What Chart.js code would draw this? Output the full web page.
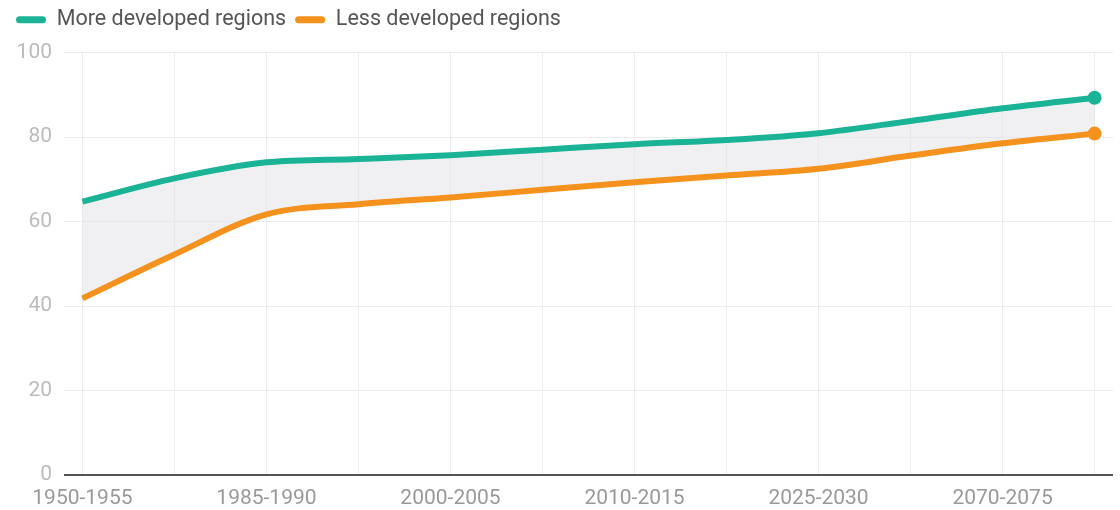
<!DOCTYPE html>
<html>
<head>
<meta charset="utf-8">
<script src="https://cdn.jsdelivr.net/npm/chart.js@4.4.0/dist/chart.umd.min.js"></script>
<style>
  body { margin: 0; background: #fff; }
  #wrap { width: 1120px; height: 510px; }
</style>
</head>
<body>
<div id="wrap"><canvas id="grafico"></canvas></div>
<script>
// Períodos (só os pares aparecem no eixo)
const periodos = ['1950-1955', '1970-1975', '1985-1990', '1995-2000', '2000-2005', '2005-2010',
                  '2010-2015', '2015-2020', '2025-2030', '2045-2050', '2070-2075', '2095-2100'];
const maisDesenvolvidas = [64.7, 70.2, 74.0, 74.8, 75.7, 77.0, 78.3, 79.3, 80.9, 83.8, 86.8, 89.3];
const menosDesenvolvidas = [41.8, 52.2, 61.7, 64.1, 65.7, 67.5, 69.3, 70.9, 72.5, 75.6, 78.5, 80.8];
const ticksY = [0, 20, 40, 60, 80, 100];

const verde = '#1bb396';
const laranja = '#f5911d';

const pontos = (arr) => arr.map((v, i) => ({ x: i, y: v }));
const ultimo = (n) => periodos.map((p, i) => i === periodos.length - 1 ? n : 0);

// Deixa mais espaço embaixo da legenda
const espacoLegenda = {
    id: 'espacoLegenda',
    beforeInit(chart) {
        const fitOriginal = chart.legend.fit;
        chart.legend.fit = function () {
            fitOriginal.bind(chart.legend)();
            this.height += 12;
        };
    }
};

const ctx = document.getElementById('grafico').getContext('2d');
const grafico = new Chart(ctx, {
    type: 'line',
    data: {
        datasets: [{
            label: 'More developed regions',
            data: pontos(maisDesenvolvidas),
            borderColor: verde,
            backgroundColor: 'rgba(228,228,232,0.55)',
            pointBackgroundColor: verde,
            borderWidth: 6,
            pointRadius: ultimo(7),
            pointBorderWidth: 0,
            cubicInterpolationMode: 'monotone',
            fill: '+1'
        }, {
            label: 'Less developed regions',
            data: pontos(menosDesenvolvidas),
            borderColor: laranja,
            backgroundColor: laranja,
            pointBackgroundColor: laranja,
            borderWidth: 6,
            pointRadius: ultimo(7),
            pointBorderWidth: 0,
            cubicInterpolationMode: 'monotone',
            fill: false
        }]
    },
    options: {
        responsive: true,
        maintainAspectRatio: false,
        animation: false,
        layout: { padding: { left: 7, right: 7, top: 0, bottom: 0 } },
        plugins: {
            tooltip: { enabled: false },
            filler: { drawTime: 'beforeDatasetsDraw' },
            legend: {
                position: 'top',
                align: 'start',
                labels: {
                    font: { family: 'Roboto', size: 21.5 },
                    color: '#555',
                    boxWidth: 30,
                    boxHeight: 7,
                    useBorderRadius: true,
                    borderRadius: 3.5,
                    padding: 9,
                    generateLabels: (chart) => {
                        const itens = Chart.defaults.plugins.legend.labels.generateLabels(chart);
                        itens.forEach(it => { it.fillStyle = it.strokeStyle; it.lineWidth = 0; });
                        return itens;
                    }
                }
            }
        },
        scales: {
            x: {
                type: 'linear',
                min: -0.2,
                max: periodos.length - 1 + 0.2,
                afterBuildTicks: (axis) => { axis.ticks = periodos.map((p, i) => ({ value: i })); },
                afterFit: (axis) => { axis.height = 35; },
                grid: { color: '#ebebeb', drawTicks: false },
                border: { display: false },
                ticks: {
                    autoSkip: false,
                    maxRotation: 0,
                    padding: 11,
                    color: '#999',
                    font: { family: 'Roboto', size: 21 },
                    callback: (v) => v % 2 === 0 ? periodos[v] : ''
                }
            },
            y: {
                min: 0,
                max: 100,
                afterBuildTicks: (axis) => { axis.ticks = ticksY.map(v => ({ value: v })); },
                afterFit: (axis) => { axis.width = 57; },
                grid: {
                    drawTicks: false,
                    color: (c) => c.tick.value === 0 ? '#555' : '#ebebeb',
                    lineWidth: (c) => c.tick.value === 0 ? 2 : 1
                },
                border: { display: false },
                ticks: {
                    padding: 12,
                    color: '#bbb',
                    font: { family: 'Roboto', size: 21 }
                }
            }
        }
    },
    plugins: [espacoLegenda]
});
</script>
</body>
</html>
